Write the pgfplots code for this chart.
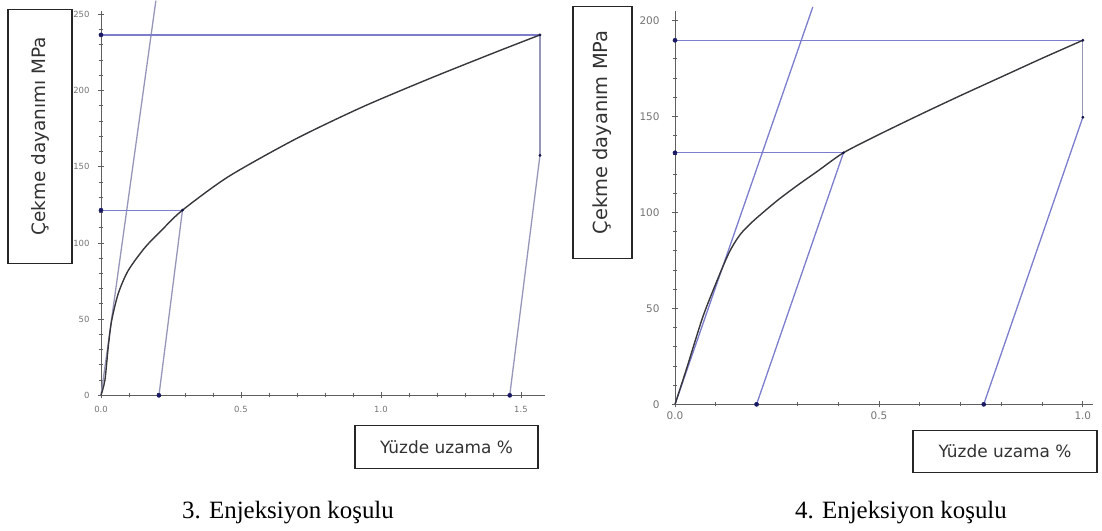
\documentclass[border=0pt]{standalone}
\usepackage{pgfplots}
\pgfplotsset{compat=1.18}
\usepackage{fontspec}
\setmainfont{DejaVu Sans}
\newfontfamily\capfont{Liberation Serif}
\definecolor{lblue}{RGB}{125,125,205}
\definecolor{gblue}{RGB}{150,150,185}
\definecolor{navy}{RGB}{25,25,100}
\definecolor{curvec}{RGB}{55,55,60}
\definecolor{axgray}{RGB}{95,95,95}
\definecolor{labc}{RGB}{50,50,50}

\pgfplotsset{
  base/.style={
    scale only axis, axis lines=left, clip=false,
    axis line style={axgray, line width=0.9bp, -},
    tick style={axgray, line width=0.8bp}, tick align=center,
    major tick length=6bp, minor tick length=4bp,
    ticklabel style={text=black!55},
    /pgf/number format/assume math mode=true,
    xtick distance=0.5, minor x tick num=4,
    ytick distance=50, minor y tick num=4,
    x tick label style={/pgf/number format/.cd, fixed, fixed zerofill, precision=1, /tikz/.cd},
    y tick label style={/pgf/number format/.cd, fixed, precision=0, /tikz/.cd},
    xmin=0, ymin=0,
  },
  curvest/.style={curvec, line width=1.4bp, smooth, tension=0.45},
  bl/.style={lblue, line width=1.3bp},
  gl/.style={gblue, line width=1.3bp},
  dots/.style={only marks, mark=*, mark size=2.1bp, navy},
  sdots/.style={only marks, mark=*, mark size=1.2bp, navy!70!black},
}

\begin{document}
\begin{tikzpicture}[x=1bp,y=1bp]
\path (0,0) rectangle (1102,530);

% ---------- Left chart ----------
\begin{axis}[base, at={(101bp,135bp)}, anchor=south west,
  width=444bp, height=384bp, xmax=1.586, ymax=252,
  ticklabel style={font=\fontsize{8.5}{9}\selectfont},
  y tick label style={xshift=-5bp}, x tick label style={yshift=-4bp}]
\addplot[gl] coordinates {(0,0) (0.196,259)};
\addplot[gl] coordinates {(0.207,0) (0.291,121.5)};
\addplot[bl] coordinates {(0,121.5) (0.291,121.5)};
\addplot[bl] coordinates {(0,236.5) (1.568,236.5)};
\addplot[gl] coordinates {(1.568,236.5) (1.568,157.5)};
\addplot[gl] coordinates {(1.568,157.5) (1.46,0)};
\addplot[curvest] coordinates {(0,0) (0.014,10) (0.026,32) (0.038,49) (0.062,67) (0.0975,82) (0.157,97) (0.22,109) (0.291,121.5) (0.455,143.5) (0.693,168) (0.931,189) (1.169,207.5) (1.407,225) (1.568,236.5)};
\addplot[dots] coordinates {(0,121.5) (0,236.5) (0.207,0) (1.46,0)};
\addplot[sdots] coordinates {(0.291,121.5) (1.568,236.5) (1.568,157.5)};
\end{axis}

% ---------- Right chart ----------
\begin{axis}[base, at={(675bp,126bp)}, anchor=south west,
  width=418bp, height=393.6bp, xmax=1.025, ymax=205,
  ticklabel style={font=\fontsize{10.5}{11}\selectfont},
  y tick label style={xshift=-9bp}, x tick label style={yshift=-1bp}]
\addplot[bl] coordinates {(0,0) (0.338,207)};
\addplot[bl] coordinates {(0.2,0) (0.413,131)};
\addplot[bl] coordinates {(0,131) (0.413,131)};
\addplot[bl] coordinates {(0,189.6) (1.0,189.6)};
\addplot[gl] coordinates {(1.0,189.6) (1.0,149.5)};
\addplot[bl] coordinates {(1.0,149.5) (0.757,0)};
\addplot[curvest] coordinates {(0,0) (0.029,19) (0.069,46) (0.11,68) (0.135,80) (0.16,88.5) (0.192,95.5) (0.25,106) (0.3,114) (0.35,121.5) (0.413,131) (0.5,140.5) (0.6,150.8) (0.7,160.8) (0.8,170.5) (0.9,180.2) (1.0,189.6)};
\addplot[dots] coordinates {(0,131) (0,189.6) (0.2,0) (0.757,0)};
\addplot[sdots] coordinates {(0.413,131) (1.0,189.6) (1.0,149.5)};
\end{axis}

% ---------- Label boxes ----------
\draw[line width=1.6bp, black!85] (8,267) rectangle (72,521);
\node[rotate=90, text=labc, font=\fontsize{18.5}{18}\selectfont] at (40,394) {Çekme dayanımı MPa};
\draw[line width=1.6bp, black!85] (573,272) rectangle (632,524);
\node[rotate=90, text=labc, font=\fontsize{19.5}{19}\selectfont] at (602.5,398) {Çekme dayanım MPa};
\draw[line width=1.6bp, black!85] (355,62) rectangle (538,105);
\node[text=labc, font=\fontsize{17}{17}\selectfont] at (446.5,83.5) {Yüzde uzama \%};
\draw[line width=1.6bp, black!85] (913,58) rectangle (1097,100);
\node[text=labc, font=\fontsize{17}{17}\selectfont] at (1005,79) {Yüzde uzama \%};

% ---------- Captions ----------
\node[anchor=base, font=\capfont\fontsize{25}{25}\selectfont] at (288,12) {3. Enjeksiyon koşulu};
\node[anchor=base, font=\capfont\fontsize{25}{25}\selectfont] at (901,12) {4. Enjeksiyon koşulu};
\end{tikzpicture}
\end{document}
